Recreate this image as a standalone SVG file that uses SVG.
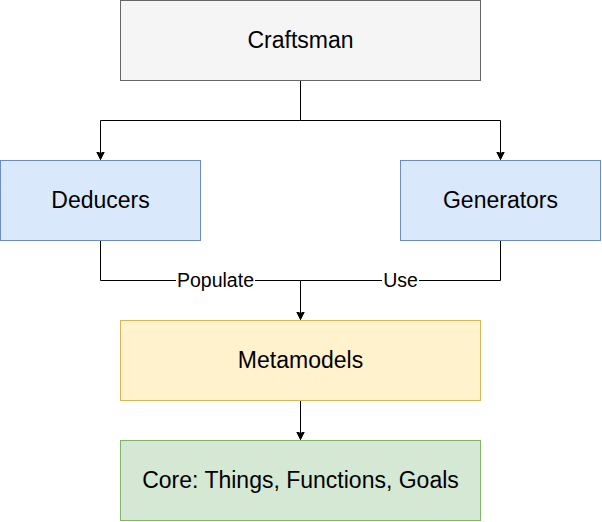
<svg xmlns="http://www.w3.org/2000/svg" width="602" height="522" viewBox="0 0 602 522">
<style>
.n{stroke-width:1}
.t{font-family:"Liberation Sans",Arial,sans-serif;font-size:23px;fill:#000;text-anchor:middle}
.l{font-family:"Liberation Sans",Arial,sans-serif;font-size:19.5px;fill:#000;text-anchor:middle}
.c{fill:none;stroke:#000;stroke-width:1}
</style>
<defs>
<marker id="a" markerWidth="10" markerHeight="10" refX="8" refY="4.5" orient="auto" markerUnits="userSpaceOnUse">
<path d="M0,0.5 L8,4.5 L0,8.5 L2,4.5 Z" fill="#000" stroke="#000" stroke-width="1"/>
</marker>
</defs>
<rect width="602" height="522" fill="#fff"/>
<g id="connectors">
<path class="c" d="M300.5,80.5 V120.5 H100.5 V159.5" marker-end="url(#a)"/>
<path class="c" d="M300.5,120.5 H500.5 V159.5" marker-end="url(#a)"/>
<path class="c" d="M100.5,240.5 V280.5 H300.5 V319.5" marker-end="url(#a)"/>
<path class="c" d="M500.5,240.5 V280.5 H300.5"/>
<path class="c" d="M300.5,400.5 V439.5" marker-end="url(#a)"/>
<rect x="176" y="269" width="79" height="22" fill="#fff"/>
<text class="l" x="215.5" y="287">Populate</text>
<rect x="382" y="269" width="37" height="22" fill="#fff"/>
<text class="l" x="400.5" y="287">Use</text>
</g>
<g id="craftsman">
<rect class="n" x="120.5" y="0.5" width="360" height="80" fill="#f5f5f5" stroke="#666666"/>
<text class="t" x="300.5" y="48">Craftsman</text>
</g>
<g id="deducers">
<rect class="n" x="0.5" y="160.5" width="200" height="80" fill="#dae8fc" stroke="#6c8ebf"/>
<text class="t" x="100.5" y="208">Deducers</text>
</g>
<g id="generators">
<rect class="n" x="400.5" y="160.5" width="200" height="80" fill="#dae8fc" stroke="#6c8ebf"/>
<text class="t" x="500.5" y="208">Generators</text>
</g>
<g id="metamodels">
<rect class="n" x="120.5" y="320.5" width="360" height="80" fill="#fff2cc" stroke="#d6b656"/>
<text class="t" x="300.5" y="368">Metamodels</text>
</g>
<g id="core">
<rect class="n" x="120.5" y="440.5" width="360" height="80" fill="#d5e8d4" stroke="#82b366"/>
<text class="t" x="300.5" y="488">Core: Things, Functions, Goals</text>
</g>
</svg>
